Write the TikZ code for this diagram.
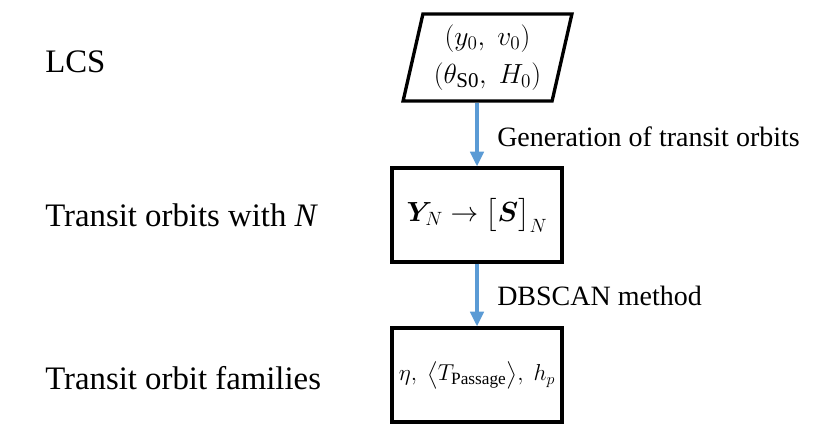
\documentclass[tikz,border=0pt]{standalone}
\usepackage{amsmath,bm}
\usepackage{fontspec}
\setmainfont{Liberation Serif}
\usetikzlibrary{arrows.meta,shapes.geometric}
\definecolor{flowblue}{HTML}{5B9BD5}

\begin{document}
\begin{tikzpicture}[
  x=0.75pt, y=-0.75pt,
  box/.style={draw, line width=2.5pt, minimum width=127.5pt, minimum height=70.5pt,
    inner sep=0pt, font=\fontsize{22}{27}\selectfont},
  inbox/.style={trapezium, trapezium left angle=76, trapezium right angle=104,
    trapezium stretches=true, draw, line width=2.5pt, minimum width=126.75pt,
    minimum height=65.25pt, inner sep=1pt, align=center,
    font=\fontsize{22.5}{28}\selectfont},
  flow/.style={flowblue, line width=2.6pt, -{Triangle[length=11pt,width=10pt]}},
  lvl/.style={font=\fontsize{24.6}{29}\selectfont, anchor=west, inner sep=0pt},
  note/.style={font=\fontsize{21}{25}\selectfont, anchor=west, inner sep=0pt}
]
\useasboundingbox (0,0) rectangle (830,436);

% flow chart
\node[inbox] (init) at (487.5,57.5)
  {$(y_0,\ v_0)$\\ $(\theta_{\text{S0}},\ H_0)$};
\node[box] (orbits) at (477,215) {$\boldsymbol{Y}_N \rightarrow \bigl[\boldsymbol{S}\bigr]_N$};
\node[box, font=\fontsize{18.5}{22}\selectfont] (families) at (477,375)
  {$\eta,\ \bigl\langle T_{\text{Passage}} \bigr\rangle,\ h_p$};

\draw[flow] (orbits.north |- init.south) -- (orbits.north);
\draw[flow] (orbits.south) -- (families.north);

% steps
\node[note] (gen) at (497,137) {Generation of transit orbits};
\node[note] (dbscan) at (497,296) {DBSCAN method};

% levels
\node[lvl] (lcs) at (45,62) {LCS};
\node[lvl] (withN) at (45,215) {Transit orbits with \textit{N}};
\node[lvl] (fam) at (45,378) {Transit orbit families};
\end{tikzpicture}
\end{document}
